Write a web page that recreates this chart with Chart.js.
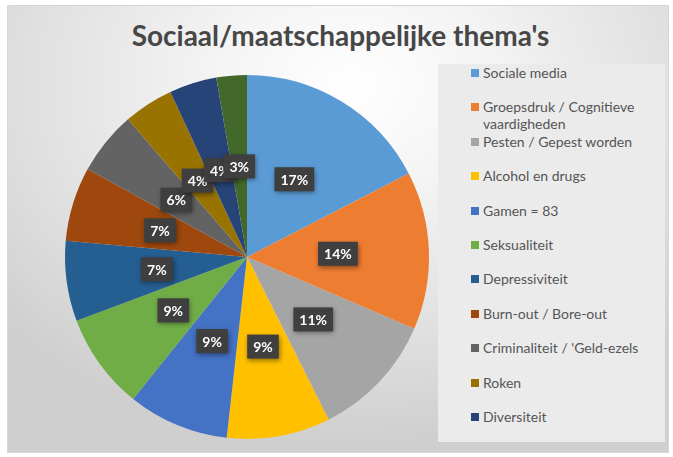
<!DOCTYPE html>
<html>
<head>
<meta charset="utf-8">
<script src="https://cdn.jsdelivr.net/npm/chart.js@4.4.1/dist/chart.umd.min.js"></script>
<style>
    body { margin: 0; width: 673px; height: 457px; background: #fff; overflow: hidden; font-family: Lato, "Open Sans", sans-serif; }
    #frame {
        position: absolute; left: 7px; top: 5px; width: 660px; height: 446px;
        border: 1px solid #d6d6d6;
        background: radial-gradient(ellipse 70% 80% at 52% 18%, #ffffff 0%, #f4f4f4 30%, #e0e0e0 70%, #cfcfcf 100%);
    }
    #title {
        position: absolute; left: 4px; top: 18px; width: 673px; text-align: center;
        font-size: 28px; font-weight: bold; color: #474747;
    }
    #chartBox { position: absolute; left: 0; top: 0; width: 673px; height: 457px; }
    #legend {
        position: absolute; left: 438px; top: 64px; width: 227px; height: 378px;
        background: #ebebeb; box-sizing: border-box;
    }
    .item { position: absolute; left: 45px; font-size: 14px; color: #555; line-height: 17px; }
    .swatch { position: absolute; left: -12px; top: 5px; width: 8px; height: 8px; }
</style>
</head>
<body>
<div id="frame"></div>
<div id="title">Sociaal/maatschappelijke thema's</div>
<div id="legend"></div>
<div id="chartBox"><canvas id="themeChart" width="673" height="457"></canvas></div>
<script>
// categories (last slice has no visible legend entry in the original)
const themes = [
    'Sociale media',
    'Groepsdruk / Cognitieve\nvaardigheden',
    'Pesten / Gepest worden',
    'Alcohol en drugs',
    'Gamen = 83',
    'Seksualiteit',
    'Depressiviteit',
    'Burn-out / Bore-out',
    "Criminaliteit / 'Geld-ezels",
    'Roken',
    'Diversiteit',
    ''
];
// number of mentions per theme
const mentions = [161, 130, 103, 85, 83, 79, 66, 61, 52, 41, 39, 25];
const sliceColors = ['#5B9BD5', '#ED7D31', '#A5A5A5', '#FFC000', '#4472C4', '#70AD47',
                     '#255E91', '#9E480E', '#636363', '#997300', '#264478', '#43682B'];

const total = mentions.reduce((a, b) => a + b, 0);

// legend (html, fixed row spacing like the original)
const legendEl = document.getElementById('legend');
themes.forEach((name, i) => {
    if (!name) return;
    const row = document.createElement('div');
    row.className = 'item';
    row.style.top = (0 + i * 34.4) + 'px';
    row.innerHTML = '<span class="swatch" style="background:' + sliceColors[i] + '"></span>' +
        name.replace('\n', '<br>');
    legendEl.appendChild(row);
});

// percentage boxes drawn at the middle of every slice
const percentBoxes = {
    id: 'percentBoxes',
    afterDatasetsDraw(chart) {
        const ctx = chart.ctx;
        const meta = chart.getDatasetMeta(0);
        ctx.save();
        ctx.font = 'bold 14px Lato, "Open Sans", sans-serif';
        ctx.textAlign = 'center';
        ctx.textBaseline = 'middle';
        meta.data.forEach((arc, i) => {
            const pos = arc.getCenterPoint();
            const txt = Math.round(mentions[i] / total * 100) + '%';
            const w = ctx.measureText(txt).width + 12;
            const h = 24;
            ctx.shadowColor = 'rgba(0,0,0,0.45)';
            ctx.shadowBlur = 5;
            ctx.shadowOffsetX = 1;
            ctx.shadowOffsetY = 2;
            ctx.fillStyle = '#3f3f3f';
            ctx.fillRect(pos.x - w / 2, pos.y - h / 2, w, h);
            ctx.shadowColor = 'transparent';
            ctx.fillStyle = '#ffffff';
            ctx.fillText(txt, pos.x, pos.y + 1);
        });
        ctx.restore();
    }
};

document.addEventListener('DOMContentLoaded', function () {
    const ctx = document.getElementById('themeChart').getContext('2d');
    new Chart(ctx, {
        type: 'pie',
        data: {
            labels: themes,
            datasets: [{
                data: mentions,
                backgroundColor: sliceColors,
                borderWidth: 0
            }]
        },
        options: {
            responsive: false,
            animation: false,
            layout: { padding: { left: 65, right: 244, top: 75, bottom: 18 } },
            plugins: {
                legend: { display: false },
                tooltip: { enabled: false }
            }
        },
        plugins: [percentBoxes]
    });
});
</script>
</body>
</html>
